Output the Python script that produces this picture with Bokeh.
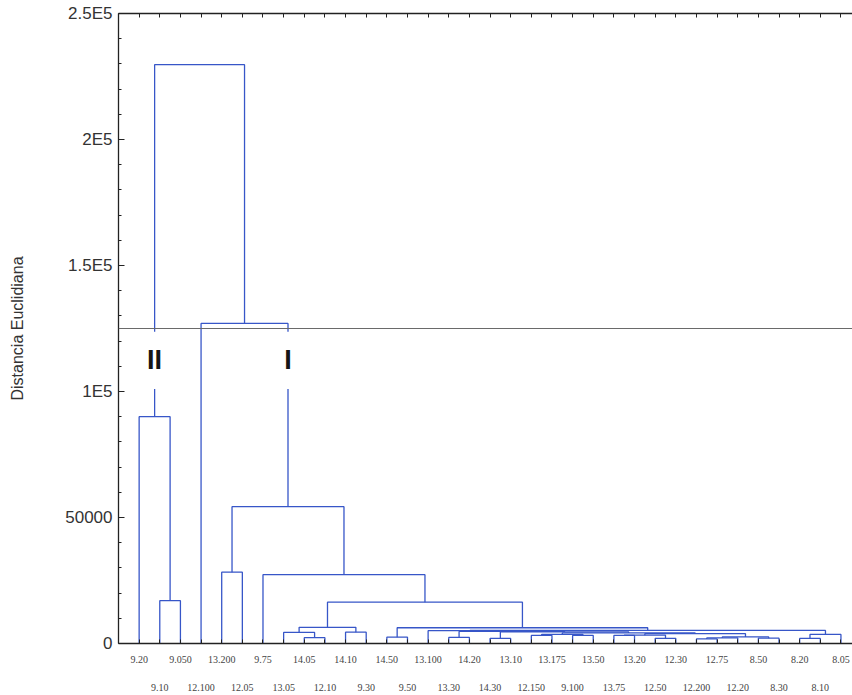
from bokeh.plotting import figure
from bokeh.models import Range1d, LinearAxis, FixedTicker, Span
from bokeh.core.properties import value
from bokeh.embed import file_html
from bokeh.resources import INLINE

# ---------------- data ----------------
leaf_labels = ["9.20", "9.10", "9.050", "12.100", "13.200", "12.05", "9.75", "13.05",
               "14.05", "12.10", "14.10", "9.30", "14.50", "9.50", "13.100", "13.30",
               "14.20", "14.30", "13.10", "12.150", "13.175", "9.100", "13.50", "13.75",
               "13.20", "12.50", "12.30", "12.200", "12.75", "12.20", "8.50", "8.30",
               "8.20", "8.10", "8.05"]

# linkage (scipy convention: index < n -> leaf, index >= n -> earlier merge)
merge_left = [1, 0, 4, 8, 7, 10, 39, 12, 15, 17, 19, 21, 23, 25, 27, 49, 30, 32, 52,
              45, 47, 50, 55, 54, 44, 43, 14, 61, 42, 41, 6, 37, 3, 36]
merge_right = [2, 35, 5, 9, 38, 11, 40, 13, 16, 18, 20, 22, 24, 26, 28, 29, 31, 33, 34,
               46, 48, 51, 56, 57, 58, 59, 60, 53, 62, 63, 64, 65, 66, 67]
merge_height = [17000, 90000, 28300, 2300, 4400, 4500, 6400, 2500, 2400, 2000, 3200, 3200,
                3200, 2000, 1800, 2200, 2100, 2000, 3600, 3600, 3300, 2600, 3900, 4200,
                4600, 4800, 5100, 5200, 6250, 16400, 27300, 54300, 127000, 229700]

cut_height = 125000
cluster_names = ["II", "I"]
cluster_nodes = [36, 66]

y_ticks = [0, 50000, 100000, 150000, 200000, 250000]
y_tick_labels = ["0", "50000", "1E5", "1.5E5", "2E5", "2.5E5"]
y_minor = [10000 * k for k in range(26)]

# ---------------- tree geometry ----------------
n = len(leaf_labels)
node_x = [float(i + 1) for i in range(n)]
node_h = [0.0] * n
xs, ys = [], []
for l, r, h in zip(merge_left, merge_right, merge_height):
    xl, xr = node_x[l], node_x[r]
    hl, hr = node_h[l], node_h[r]
    xs.append([xl, xl, xr, xr])
    ys.append([hl, h, h, hr])
    node_x.append((xl + xr) / 2)
    node_h.append(h)

leaf_pos = list(range(1, n + 1))

p = figure(width=852, height=695, output_backend="svg", toolbar_location=None,
           x_range=Range1d(0, 35.56), y_range=Range1d(0, 250000),
           x_axis_location=None, y_axis_location="left",
           min_border_left=118, min_border_right=0, min_border_top=13, min_border_bottom=52)
p.outline_line_color = None
p.grid.grid_line_color = None
p.background_fill_color = "white"
p.border_fill_color = "white"

p.multi_line(xs=xs, ys=ys, line_color="#3756c8", line_width=1.3)

# cut line
p.add_layout(Span(location=cut_height, dimension="width", line_color="#6a6a6a", line_width=1.2))

# label masks + cluster labels
lab_x = [node_x[k] for k in cluster_nodes]
p.quad(left=[x - 0.7 for x in lab_x], right=[x + 0.7 for x in lab_x],
       bottom=[101000] * 2, top=[123700] * 2, fill_color="white", line_color=None)
p.text(x=lab_x, y=[112500] * 2, text=cluster_names, text_font=value("Liberation Sans"),
       text_font_size=value("27px"), text_font_style="bold", text_align="center",
       text_baseline="middle", text_color="#151515")

# y axis
ya = p.yaxis[0]
ya.ticker = FixedTicker(ticks=y_ticks, minor_ticks=y_minor)
ya.major_label_overrides = {t: s for t, s in zip(y_ticks, y_tick_labels)}
ya.major_tick_in = 6
ya.major_tick_out = 0
ya.minor_tick_in = 3
ya.minor_tick_out = 0
ya.major_label_standoff = 6
ya.major_label_text_font = "Liberation Sans"
ya.major_label_text_font_size = "17px"
ya.major_label_text_color = "#333333"
ya.axis_label = "Distancia Euclidiana"
ya.axis_label_text_font = "Liberation Sans"
ya.axis_label_text_font_size = "16px"
ya.axis_label_text_font_style = "normal"
ya.axis_label_text_color = "#333333"
ya.axis_label_standoff = 36
ya.axis_line_color = "#222222"
ya.axis_line_width = 1.3
ya.major_tick_line_color = "#222222"
ya.minor_tick_line_color = "#222222"

# bottom axes: two rows of leaf labels
ax1 = LinearAxis(ticker=FixedTicker(ticks=leaf_pos),
                 major_label_overrides={i + 1: (leaf_labels[i] if i % 2 == 0 else "") for i in range(n)})
ax2 = LinearAxis(ticker=FixedTicker(ticks=leaf_pos[1::2]),
                 major_label_overrides={i + 1: leaf_labels[i] for i in range(1, n, 2)})
for ax, so in ((ax1, 12), (ax2, 18)):
    ax.major_tick_in = 4
    ax.major_tick_out = 0
    ax.minor_tick_in = 0
    ax.minor_tick_out = 0
    ax.major_label_standoff = so
    ax.major_label_text_font = "Liberation Serif"
    ax.major_label_text_font_size = "10px"
    ax.major_label_text_color = "#444444"
    ax.axis_line_color = "#222222"
    ax.axis_line_width = 1.3
    ax.major_tick_line_color = "#222222"
ax2.axis_line_color = None
ax2.major_tick_line_color = None
p.add_layout(ax1, "below")
p.add_layout(ax2, "below")

# top axis: ticks only
axt = LinearAxis(ticker=FixedTicker(ticks=leaf_pos),
                 major_label_overrides={i + 1: "" for i in range(n)})
axt.major_tick_in = 4
axt.major_tick_out = 0
axt.minor_tick_in = 0
axt.minor_tick_out = 0
axt.major_label_standoff = 0
axt.major_label_text_font_size = "1px"
axt.axis_line_color = "#222222"
axt.axis_line_width = 1.3
axt.major_tick_line_color = "#222222"
p.add_layout(axt, "above")

open("out.html", "w").write(file_html(p, INLINE))
